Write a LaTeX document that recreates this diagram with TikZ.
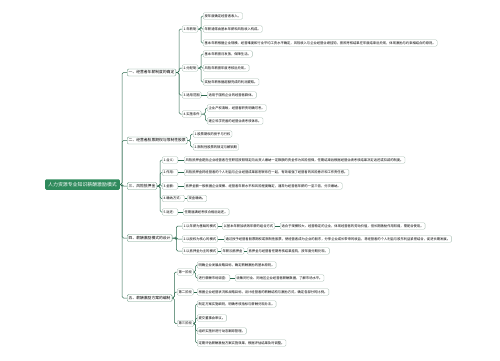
\documentclass[tikz,border=0pt]{standalone}
\usepackage{fontspec}
\newfontfamily\cjk{Noto Sans CJK SC}
\usetikzlibrary{positioning}
\definecolor{rootgreen}{HTML}{2F8A5C}
\definecolor{linkgreen}{HTML}{2D6A4F}
\definecolor{topicline}{HTML}{6E9A84}
\definecolor{leafline}{HTML}{A9BFB4}
\tikzset{
    leaf/.style={
        rectangle,
        draw=leafline,
        fill=white,
        line width=0.35pt,
        rounded corners=1.2pt,
        inner xsep=1.5pt,
        inner ysep=0pt,
        minimum height=6.5pt,
        anchor=west,
        font={\cjk\fontsize{3.3}{4}\selectfont}
    },
    topic/.style={
        leaf,
        draw=topicline,
        line width=0.45pt,
        minimum height=7pt,
        font={\cjk\fontsize{3.8}{4.5}\selectfont}
    },
    rootnode/.style={
        rectangle,
        fill=rootgreen,
        text=white,
        rounded corners=1.2pt,
        inner xsep=3pt,
        inner ysep=0pt,
        minimum height=10.5pt,
        anchor=west,
        font={\cjk\fontsize{4.9}{5.5}\selectfont}
    },
    link/.style={
        draw=linkgreen,
        line width=0.5pt,
        rounded corners=1.5pt
    }
}

\begin{document}
\begin{tikzpicture}[x=1pt, y=-1pt]
    \useasboundingbox (0,0) rectangle (500,360);
    % root and main topics
    \node[rootnode] (root) at (45,184.5) {人力资源专业知识薪酬激励模式};
    \node[topic] (l1a) at (127,72.5) {一、经营者年薪制度的确定};
    \node[topic] (l1b) at (127,140.5) {二、经营者股票期权与限制性股票};
    \node[topic] (l1c) at (127,186) {三、风险抵押金};
    \node[topic] (l1d) at (127,238) {四、薪酬激励模式的设计};
    \node[topic] (l1e) at (127,298) {五、薪酬激励方案的编制};
    % branch one
    \node[leaf] (a1) at (182,29) {1.年薪制};
    \node[leaf] (a11) at (203,16) {按年度确定经营者收入。};
    \node[leaf] (a12) at (203,29) {年薪通常由基本年薪和风险收入构成。};
    \node[leaf] (a13) at (203,43) {基本年薪根据企业规模、经营难度和行业平均工资水平确定，风险收入与企业经营业绩挂钩，按照考核结果在年度结束后兑现，体现激励与约束相结合的原则。};
    \node[leaf] (a2) at (182,68) {2.分配制};
    \node[leaf] (a21) at (203,54) {基本年薪按月发放，保障生活。};
    \node[leaf] (a22) at (203,68) {风险年薪按年度考核后兑现。};
    \node[leaf] (a23) at (203,82) {奖励年薪依据超额完成的利润提取。};
    \node[leaf] (a3) at (182,95) {3.适用范围};
    \node[leaf] (a31) at (207,95) {适用于国有企业的经营者群体。};
    \node[leaf] (a4) at (182,114) {4.实施条件};
    \node[leaf] (a41) at (207,108) {企业产权清晰，经营者职责明确可考。};
    \node[leaf] (a42) at (207,121) {建立科学完善的经营业绩考核体系。};
    % branch two
    \node[leaf] (b1) at (193,134) {1.股票期权的授予与行权};
    \node[leaf] (b2) at (193,147) {2.限制性股票的锁定与解锁期};
    % branch three
    \node[leaf] (c1) at (162,160) {1.含义：};
    \node[leaf] (c11) at (184,160) {风险抵押金是指企业经营者在任职前按照规定向出资人缴纳一定数额的资金作为风险担保，任期结束后根据经营业绩考核结果决定返还或扣减的制度。};
    \node[leaf] (c2) at (162,172.5) {2.作用：};
    \node[leaf] (c21) at (184,172.5) {风险抵押金将经营者的个人利益与企业经营成果紧密联系在一起，有效增强了经营者的风险意识和工作责任感。};
    \node[leaf] (c3) at (162,186) {3.金额：};
    \node[leaf] (c31) at (184,186) {抵押金额一般根据企业规模、经营者年薪水平和风险程度确定，通常为经营者年薪的一至三倍，分次缴纳。};
    \node[leaf] (c4) at (162,198.5) {4.缴纳方式：};
    \node[leaf] (c41) at (187,198.5) {现金缴纳。};
    \node[leaf] (c5) at (162,212) {5.返还：};
    \node[leaf] (c51) at (183,212) {任期届满经考核合格后返还。};
    % branch four
    \node[leaf] (d1) at (182,226) {1.以年薪为基础的模式};
    \node[leaf] (d11) at (222,226) {以基本年薪加绩效年薪的组合方式};
    \node[leaf] (d12) at (280,226) {适合于规模较大、经营稳定的企业，体现经营者的劳动价值，但长期激励作用较弱，需配合使用。};
    \node[leaf] (d2) at (182,239) {2.以股权为核心的模式};
    \node[leaf] (d21) at (224,239) {通过授予经营者股票期权或限制性股票，使经营者成为企业的股东，分享企业成长带来的收益，将经营者的个人利益与股东利益紧密结合，促进长期发展。};
    \node[leaf] (d3) at (182,251) {3.以抵押金为主的模式};
    \node[leaf] (d31) at (221,251) {年薪加抵押金};
    \node[leaf] (d32) at (247,251) {抵押金与经营者任期考核结果挂钩，按年度分期兑现。};
    % branch five
    \node[leaf] (e1) at (177,272) {第一阶段};
    \node[leaf] (e11) at (197,265) {明确企业发展战略目标，确定薪酬激励的基本原则。};
    \node[leaf] (e12) at (197,278) {进行薪酬市场调查：};
    \node[leaf] (e121) at (235,278) {收集同行业、同地区企业经营者薪酬数据，了解市场水平。};
    \node[leaf] (e2) at (177,292) {第二阶段};
    \node[leaf] (e21) at (197,292) {根据企业经营状况和战略目标，设计经营者的薪酬结构与激励方式，确定各部分的比例。};
    \node[leaf] (e3) at (177,323.5) {第三阶段};
    \node[leaf] (e31) at (197,304) {制定方案实施细则，明确考核指标与薪酬兑现办法。};
    \node[leaf] (e32) at (197,318) {提交董事会审议。};
    \node[leaf] (e33) at (197,331) {组织实施并进行动态跟踪管理。};
    \node[leaf] (e34) at (197,343) {定期评估薪酬激励方案实施效果，根据评估结果及时调整。};
    % connectors
    \foreach \c in {l1a,l1b,l1c,l1d,l1e} \draw[link] (root.east) -- ++(2,0) |- (\c.west);
    \foreach \c in {a1,a2,a3,a4} \draw[link] (l1a.east) -- ++(3,0) |- (\c.west);
    \foreach \c in {a11,a12,a13} \draw[link] (a1.east) -- ++(3,0) |- (\c.west);
    \foreach \c in {a21,a22,a23} \draw[link] (a2.east) -- ++(3,0) |- (\c.west);
    \draw[link] (a3.east) -- (a31.west);
    \foreach \c in {a41,a42} \draw[link] (a4.east) -- ++(4,0) |- (\c.west);
    \foreach \c in {b1,b2} \draw[link] (l1b.east) -- ++(3,0) |- (\c.west);
    \foreach \c in {c1,c2,c3,c4,c5} \draw[link] (l1c.east) -- ++(3,0) |- (\c.west);
    \draw[link] (c1.east) -- (c11.west);
    \draw[link] (c2.east) -- (c21.west);
    \draw[link] (c3.east) -- (c31.west);
    \draw[link] (c4.east) -- (c41.west);
    \draw[link] (c5.east) -- (c51.west);
    \foreach \c in {d1,d2,d3} \draw[link] (l1d.east) -- ++(4,0) |- (\c.west);
    \draw[link] (d1.east) -- (d11.west);
    \draw[link] (d11.east) -- (d12.west);
    \draw[link] (d2.east) -- (d21.west);
    \draw[link] (d3.east) -- (d31.west);
    \draw[link] (d31.east) -- (d32.west);
    \foreach \c in {e1,e2,e3} \draw[link] (l1e.east) -- ++(2,0) |- (\c.west);
    \foreach \c in {e11,e12} \draw[link] (e1.east) -- ++(2,0) |- (\c.west);
    \draw[link] (e12.east) -- (e121.west);
    \draw[link] (e2.east) -- (e21.west);
    \foreach \c in {e31,e32,e33,e34} \draw[link] (e3.east) -- ++(2,0) |- (\c.west);
\end{tikzpicture}
\end{document}
